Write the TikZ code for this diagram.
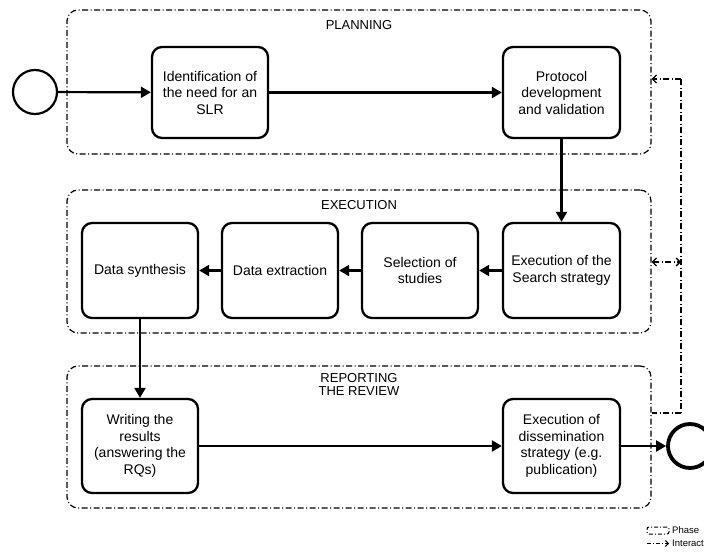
\documentclass[tikz,border=0pt]{standalone}
\usepackage{fontspec}
\setmainfont{Liberation Sans}
\usetikzlibrary{arrows.meta}
\begin{document}
\begin{tikzpicture}[x=1pt,y=-1pt,
  stepbox/.style={draw, line width=2.3pt, rounded corners=10pt, minimum width=116pt,
    align=center, font=\fontsize{14}{16.5}\selectfont, inner sep=2pt},
  phase/.style={draw, line width=1.2pt, rounded corners=11pt,
    dash pattern=on 6pt off 2.5pt on 1pt off 2.5pt, minimum width=584pt},
  phasetitle/.style={align=center, font=\fontsize{13}{13}\selectfont, anchor=north, inner sep=0pt},
  flow/.style={line width=2.2pt, -{Triangle[length=10pt,width=11pt]}},
  inter/.style={line width=1.3pt, dash pattern=on 6pt off 2.5pt on 1pt off 2.5pt},
  barbtip/.tip={Straight Barb[length=4pt,width=8pt,line width=1.3pt]},
  smallbarb/.tip={Straight Barb[length=3pt,width=6pt,line width=1pt]},
  legendtext/.style={anchor=west, inner sep=0pt, font=\fontsize{9.5}{11}\selectfont},
  event/.style={draw, circle, minimum size=44pt, inner sep=0pt}
]
\useasboundingbox (0,0) rectangle (704,554);

% phases
\node[phase, minimum height=144pt] (plan) at (359,82) {};
\node[phase, minimum height=143pt] (exec) at (359,261.5) {};
\node[phase, minimum height=142pt] (rep) at (359,437) {};
\node[phasetitle] (plant) at (359,20) {PLANNING};
\node[phasetitle] (exect) at (359,200) {EXECUTION};
\node[phasetitle] (rept) at (359,373) {REPORTING\\THE REVIEW};

% events
\node[event, line width=2.2pt] (start) at (35,92) {};
\node[event, line width=3.8pt] (stop) at (690,446) {};

% planning
\node[stepbox, minimum height=91pt] (ident) at (210,92.5) {Identification of\\the need for an\\SLR};
\node[stepbox, minimum height=91pt, minimum width=117pt] (proto) at (561.5,92.5) {Protocol\\development\\and validation};

% execution
\node[stepbox, minimum height=95pt, minimum width=117pt] (search) at (561.5,270.5) {Execution of the\\Search strategy};
\node[stepbox, minimum height=95pt] (sel) at (420,270.5) {Selection of\\studies};
\node[stepbox, minimum height=95pt] (extr) at (280,270.5) {Data extraction};
\node[stepbox, minimum height=95pt] (synth) at (140,270.5) {Data synthesis};

% reporting
\node[stepbox, minimum height=94pt] (write) at (140,446) {Writing the\\results\\(answering the\\RQs)};
\node[stepbox, minimum height=94pt, minimum width=117pt] (dissem) at (561.5,446) {Execution of\\dissemination\\strategy (e.g.\\publication)};

% sequence flow
\draw[flow] (start) -- (ident);
\draw[flow] (ident) -- (proto);
\draw[flow] (proto) -- (search);
\draw[flow] (search) -- (sel);
\draw[flow] (sel) -- (extr);
\draw[flow] (extr) -- (synth);
\draw[flow] (synth) -- (write);
\draw[flow] (write) -- (dissem);
\draw[flow] (dissem) -- (stop);

% interactions between phases
\coordinate (ia) at (681,79);
\coordinate (ib) at (681,262);
\coordinate (ic) at (681,413);
\draw[inter] (ia) -- (ic);
\draw[inter, -barbtip] (ia) -- (plan.east |- ia);
\draw[inter, barbtip-barbtip] (exec.east |- ib) -- (ib);
\draw[inter] (ic) -- (rep.east |- ic);

% legend
\node[draw, line width=1pt, rounded corners=2pt, dash pattern=on 4pt off 2pt on 1pt off 2pt,
  minimum width=22pt, minimum height=7pt, inner sep=0pt] (legphase) at (658,530.5) {};
\node[legendtext] (legphaset) at (672,530.5) {Phase};
\coordinate (legia) at (647,543.5);
\node[legendtext] (leginter) at (672,543.5) {Interaction};
\draw[inter, line width=1pt, dash pattern=on 4pt off 2pt on 1pt off 2pt, -smallbarb]
  (legia) -- ([xshift=-3pt]leginter.west);
\end{tikzpicture}
\end{document}
